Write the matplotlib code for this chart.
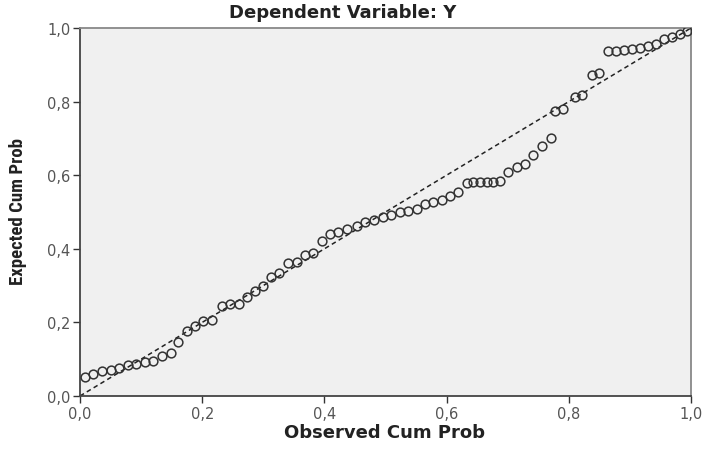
import matplotlib.pyplot as plt
from matplotlib.ticker import FuncFormatter

# observed vs expected cumulative probabilities
observed = [0.008, 0.021, 0.036, 0.051, 0.064, 0.079, 0.092, 0.106, 0.119, 0.134,
            0.149, 0.160, 0.175, 0.188, 0.201, 0.216, 0.232, 0.245, 0.260, 0.273,
            0.286, 0.300, 0.313, 0.326, 0.340, 0.355, 0.368, 0.381, 0.396, 0.409,
            0.422, 0.437, 0.453, 0.466, 0.481, 0.496, 0.509, 0.524, 0.537, 0.552,
            0.565, 0.578, 0.592, 0.606, 0.619, 0.633, 0.643, 0.655, 0.666, 0.676,
            0.687, 0.700, 0.715, 0.728, 0.741, 0.756, 0.771, 0.777, 0.790, 0.810,
            0.822, 0.838, 0.849, 0.864, 0.877, 0.890, 0.903, 0.917, 0.930, 0.943,
            0.956, 0.969, 0.982, 0.993]
expected = [0.052, 0.060, 0.068, 0.071, 0.076, 0.084, 0.087, 0.092, 0.095, 0.109,
            0.117, 0.147, 0.177, 0.190, 0.204, 0.207, 0.245, 0.250, 0.250, 0.269,
            0.285, 0.299, 0.323, 0.334, 0.361, 0.364, 0.383, 0.389, 0.421, 0.440,
            0.446, 0.454, 0.462, 0.473, 0.478, 0.486, 0.492, 0.500, 0.503, 0.508,
            0.522, 0.527, 0.533, 0.543, 0.554, 0.579, 0.582, 0.582, 0.582, 0.582,
            0.584, 0.609, 0.622, 0.630, 0.655, 0.679, 0.701, 0.774, 0.780, 0.812,
            0.818, 0.872, 0.878, 0.938, 0.938, 0.940, 0.943, 0.946, 0.951, 0.957,
            0.970, 0.976, 0.984, 0.992]

ticks = [0.0, 0.2, 0.4, 0.6, 0.8, 1.0]

fig = plt.figure(figsize=(7.1, 4.6), dpi=100)
ax = fig.add_axes([0.1127, 0.137, 0.8606, 0.8])
ax.set_facecolor("#f0f0f0")

ax.plot([0, 1], [0, 1], color="#222222", linestyle=(0, (3, 2.2)), linewidth=1.1, zorder=2)
ax.plot(observed, expected, linestyle="none", marker="o", markersize=6.3,
        markerfacecolor="none", markeredgecolor="#333333", markeredgewidth=1.1, zorder=3)

ax.set_xlim(0, 1)
ax.set_ylim(0, 1)
ax.set_xticks(ticks)
ax.set_yticks(ticks)
fmt = FuncFormatter(lambda v, p: ("%.1f" % v).replace(".", ","))
ax.xaxis.set_major_formatter(fmt)
ax.yaxis.set_major_formatter(fmt)
ax.tick_params(direction="out", length=5, width=1, colors="#333333",
               labelsize=10.5, labelcolor="#555555", pad=2)

for s in ["left", "bottom"]:
    ax.spines[s].set_color("#444444")
    ax.spines[s].set_linewidth(1.3)
for s in ["top", "right"]:
    ax.spines[s].set_color("#888888")
    ax.spines[s].set_linewidth(1.3)

fig.text(0.482, 0.972, "Dependent Variable: Y", ha="center", va="center",
         fontsize=13, fontweight="bold", family="DejaVu Sans", color="#222222")
fig.text(0.541, 0.058, "Observed Cum Prob", ha="center", va="center",
         fontsize=13, fontweight="bold", family="DejaVu Sans", color="#222222")
fig.text(0.026, 0.54, "Expected Cum Prob", rotation=90, ha="center", va="center",
         fontsize=13.5, fontweight="bold",
         family=["Roboto Condensed", "Roboto", "DejaVu Sans"], color="#222222")

fig.savefig("out.png", dpi=100)
